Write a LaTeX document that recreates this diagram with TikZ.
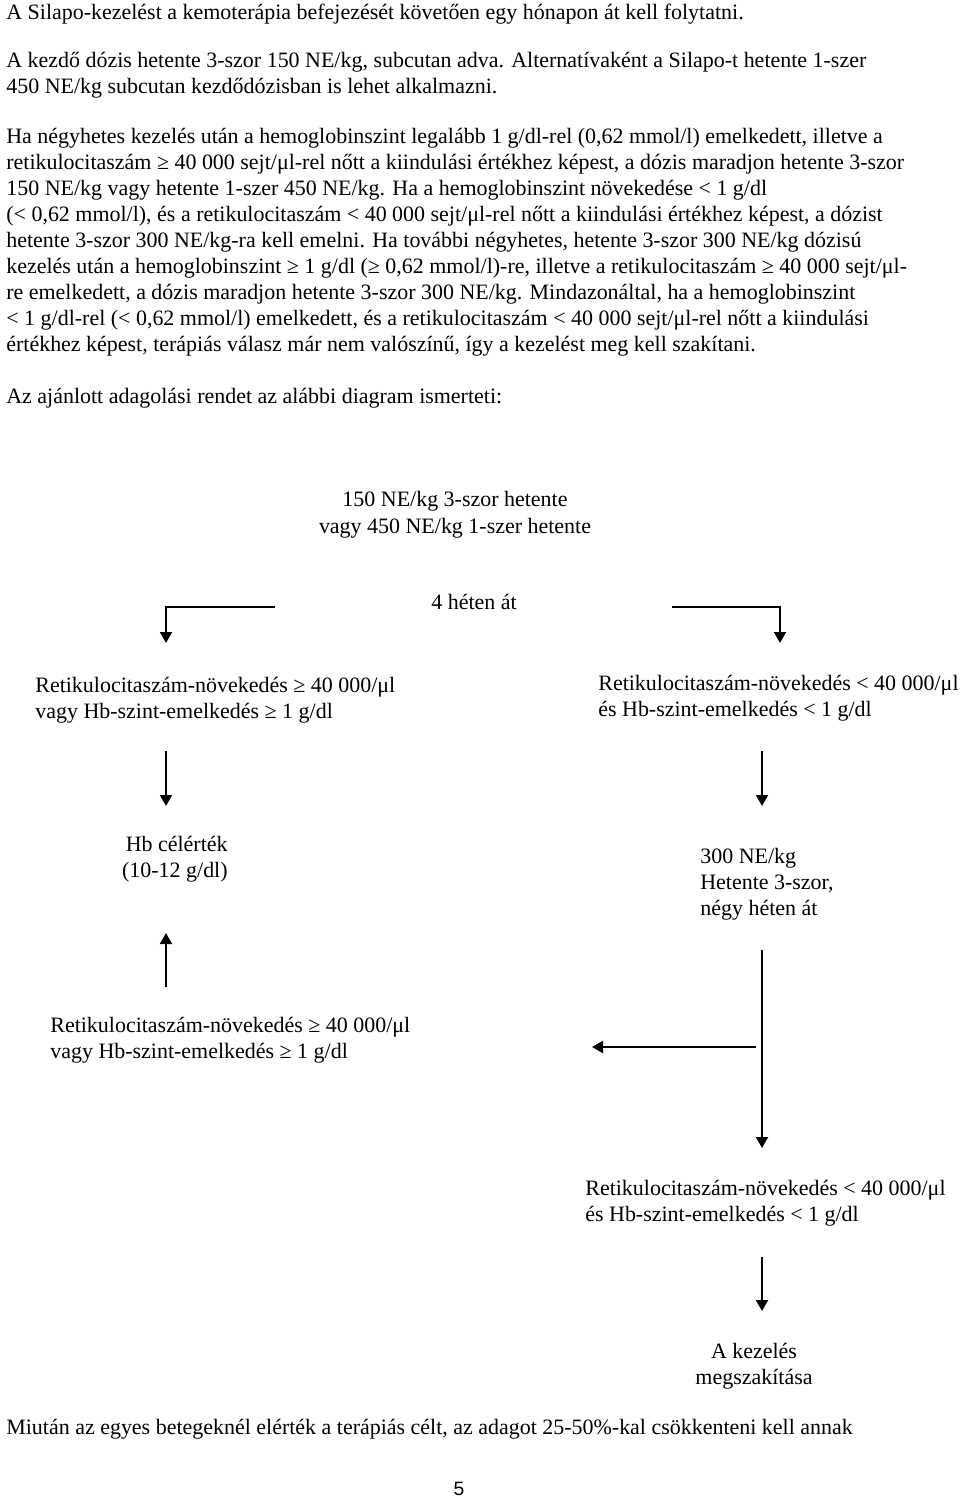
\documentclass[tikz,border=0pt]{standalone}
\usepackage{fontspec}
\setmainfont{Liberation Serif}
\newfontfamily\pagenumfont{Liberation Sans}
\usetikzlibrary{arrows.meta}

\begin{document}
\begin{tikzpicture}[x=0.02cm, y=-0.02cm,
  txt/.style={inner sep=0pt, anchor=base west, align=left, font=\fontsize{12.5}{14.8}\selectfont},
  ctxt/.style={txt, anchor=base, align=center},
  rtxt/.style={txt, anchor=base east, align=right},
  arr/.style={-{Triangle[length=0.22cm, width=0.24cm]}, line width=1.1pt}]
\useasboundingbox (0,0) rectangle (960,1500);
% page text (multi-line nodes sit on their last baseline)
\node[txt] (folytat) at (6,20) {A Silapo-kezelést a kemoterápia befejezését követően egy hónapon át kell folytatni.};
\node[txt] (kezdo) at (6,94) {A kezdő dózis hetente 3-szor 150 NE/kg, subcutan adva. Alternatívaként a Silapo-t hetente 1-szer\\
  450 NE/kg subcutan kezdődózisban is lehet alkalmazni.};
\node[txt] (szabaly) at (6,352) {Ha négyhetes kezelés után a hemoglobinszint legalább 1 g/dl-rel (0,62 mmol/l) emelkedett, illetve a\\
  retikulocitaszám ≥ 40 000 sejt/μl-rel nőtt a kiindulási értékhez képest, a dózis maradjon hetente 3-szor\\
  150 NE/kg vagy hetente 1-szer 450 NE/kg. Ha a hemoglobinszint növekedése < 1 g/dl\\
  (< 0,62 mmol/l), és a retikulocitaszám < 40 000 sejt/μl-rel nőtt a kiindulási értékhez képest, a dózist\\
  hetente 3-szor 300 NE/kg-ra kell emelni. Ha további négyhetes, hetente 3-szor 300 NE/kg dózisú\\
  kezelés után a hemoglobinszint ≥ 1 g/dl (≥ 0,62 mmol/l)-re, illetve a retikulocitaszám ≥ 40 000 sejt/μl-\\
  re emelkedett, a dózis maradjon hetente 3-szor 300 NE/kg. Mindazonáltal, ha a hemoglobinszint\\
  < 1 g/dl-rel (< 0,62 mmol/l) emelkedett, és a retikulocitaszám < 40 000 sejt/μl-rel nőtt a kiindulási\\
  értékhez képest, terápiás válasz már nem valószínű, így a kezelést meg kell szakítani.};
\node[txt] (ajanlott) at (6,403) {Az ajánlott adagolási rendet az alábbi diagram ismerteti:};
% diagram
\node[ctxt] (start) at (455,533) {150 NE/kg 3-szor hetente\\vagy 450 NE/kg 1-szer hetente};
\node[ctxt] (negyhet) at (474,609) {4 héten át};
\node[txt] (joval) at (35,718) {Retikulocitaszám-növekedés ≥ 40 000/μl\\vagy Hb-szint-emelkedés ≥ 1 g/dl};
\node[txt] (gyenge) at (598,716) {Retikulocitaszám-növekedés < 40 000/μl\\és Hb-szint-emelkedés < 1 g/dl};
\node[rtxt] (cel) at (228,877) {Hb célérték\\(10-12 g/dl)};
\node[txt] (emel) at (700,915) {300 NE/kg\\Hetente 3-szor,\\négy héten át};
\node[txt] (joval2) at (50,1058) {Retikulocitaszám-növekedés ≥ 40 000/μl\\vagy Hb-szint-emelkedés ≥ 1 g/dl};
\node[txt] (gyenge2) at (585,1221) {Retikulocitaszám-növekedés < 40 000/μl\\és Hb-szint-emelkedés < 1 g/dl};
\node[ctxt] (stop) at (754,1384) {A kezelés\\megszakítása};
\node[txt] (miutan) at (6,1434) {Miután az egyes betegeknél elérték a terápiás célt, az adagot 25-50\%-kal csökkenteni kell annak};
\node[ctxt, font=\pagenumfont\fontsize{11}{13}\selectfont] (oldal) at (459,1495) {5};
% connectors
\coordinate (bl0) at (275,607); \coordinate (bl1) at (166,607); \coordinate (bl2) at (166,643);
\coordinate (br0) at (672,607); \coordinate (br1) at (780,607); \coordinate (br2) at (780,643);
\coordinate (la) at (166,751);  \coordinate (lb) at (166,806);
\coordinate (ra) at (762,751);  \coordinate (rb) at (762,806);
\coordinate (ua) at (166,987);  \coordinate (ub) at (166,933);
\coordinate (va) at (762,950);  \coordinate (vb) at (762,1148);
\coordinate (ha) at (756,1047); \coordinate (hb) at (592,1047);
\coordinate (ka) at (762,1257); \coordinate (kb) at (762,1311);
\draw[arr] (bl0) -- (bl1) -- (bl2);
\draw[arr] (br0) -- (br1) -- (br2);
\foreach \a/\b in {la/lb, ra/rb, ua/ub, va/vb, ha/hb, ka/kb}
  \draw[arr] (\a) -- (\b);
\end{tikzpicture}
\end{document}
